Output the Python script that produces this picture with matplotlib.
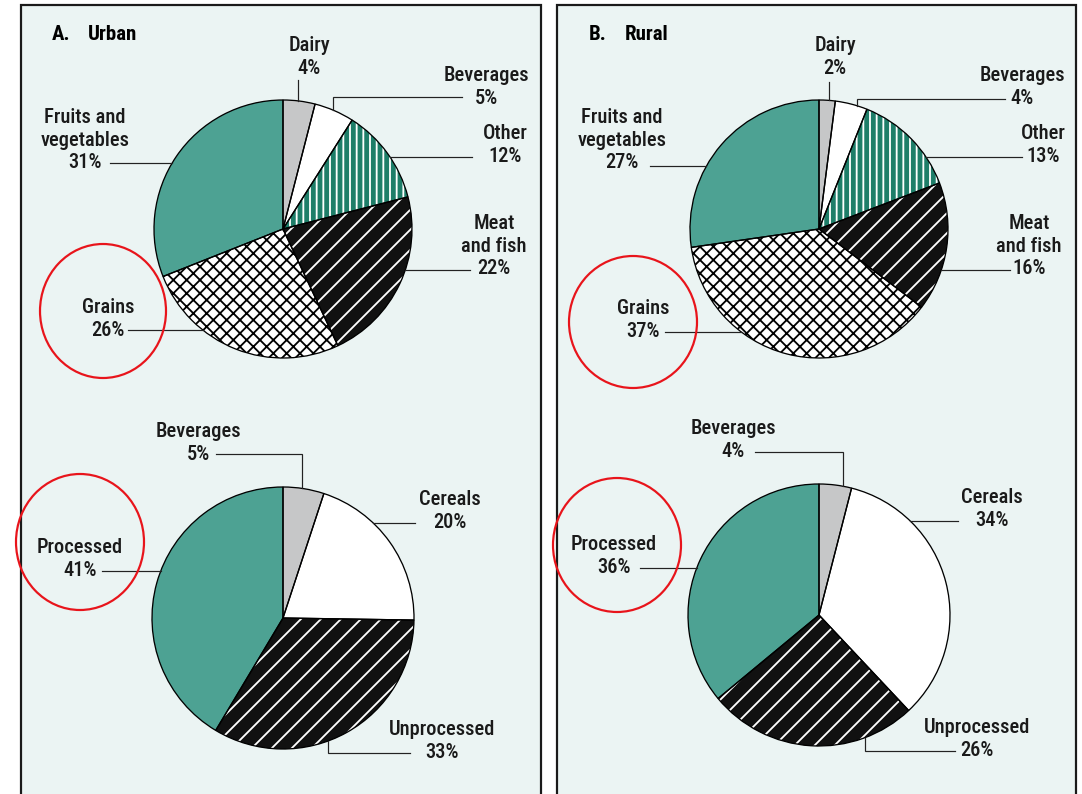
import numpy as np
import matplotlib
matplotlib.use("Agg")
from matplotlib import pyplot as plt
from matplotlib.patches import Rectangle, Ellipse

# figure is laid out in pixel units (y pointing down), dpi 120 so hatch spacing looks right
W, H = 1082, 794
DPI = 120
plt.rcParams['font.family'] = ['Roboto Condensed', 'DejaVu Sans']
plt.rcParams['hatch.linewidth'] = 1.1

# data
top_labels = ['Dairy', 'Beverages', 'Other', 'Meat\nand fish', 'Grains', 'Fruits and\nvegetables']
urban_top = [4, 5, 12, 22, 26, 31]
rural_top = [2, 4, 13, 16, 37, 27]

bottom_labels = ['Beverages', 'Cereals', 'Unprocessed', 'Processed']
urban_bottom = [5, 20, 33, 41]
rural_bottom = [4, 34, 26, 36]

# styles (face, hatch, hatch colour)
teal = '#4DA293'
top_styles = [('#C6C7C8', None, 'none'), ('white', None, 'none'), ('#1E7E69', '|||', 'white'),
              ('#111111', '//', 'white'), ('white', 'xxx', 'black'), (teal, None, 'none')]
bottom_styles = [('#C6C7C8', None, 'none'), ('white', None, 'none'),
                 ('#111111', '//', 'white'), (teal, None, 'none')]

fig = plt.figure(figsize=(W / DPI, H / DPI), dpi=DPI)
ax = fig.add_axes([0, 0, 1, 1])
px = 72 / DPI  # one pixel in points

# background panels
for x0, x1 in [(21, 541), (557, 1076)]:
    ax.add_patch(Rectangle((x0, 5), x1 - x0, 800, facecolor='#EBF4F3', edgecolor='#1a1a1a', lw=2.2 * px, zorder=0))


def draw_pie(values, styles, cx, cy, r):
    wedges, _ = ax.pie(values, startangle=-90, counterclock=True, center=(cx, cy), radius=r,
                       wedgeprops=dict(linewidth=0))
    for w, (fc, hatch, hc) in zip(wedges, styles):
        w.set_facecolor(fc)
        w.set_edgecolor(hc)
        w.set_linewidth(0)
        if hatch:
            w.set_hatch(hatch)
    # outlines on top
    ax.pie(values, startangle=-90, counterclock=True, center=(cx, cy), radius=r,
           wedgeprops=dict(fill=False, edgecolor='black', linewidth=1.3 * px))


def edge_x(cx, cy, r, y, side):
    return cx + side * np.sqrt(r ** 2 - (y - cy) ** 2)


def edge_y(cx, cy, r, x, side):
    return cy + side * np.sqrt(r ** 2 - (x - cx) ** 2)


def leaders(cx, cy, r, specs):
    for kind, a, b, c in specs:
        if kind == 'h':      # horizontal from label x=a at y=b to pie side c
            xs, ys = [a, edge_x(cx, cy, r, b, c)], [b, b]
        elif kind == 'v':    # vertical at x=a from y=b down to pie top
            xs, ys = [a, a], [b, edge_y(cx, cy, r, a, -1)]
        elif kind == 'top':  # from label x=c at y=b across to x=a then down to pie
            xs, ys = [c, a, a], [b, b, edge_y(cx, cy, r, a, -1)]
        else:                # 'bot': from pie bottom at x=a down to y=b then across to x=c
            xs, ys = [a, a, c], [edge_y(cx, cy, r, a, 1), b, b]
        ax.plot(xs, ys, color='#222222', lw=1.2 * px, solid_joinstyle='miter')


def labels(names, values, pos):
    for name, v, (x, y) in zip(names, values, pos):
        ax.text(x, y, f'{name}\n{v}%', ha='center', va='center', fontsize=12.3,
                fontweight='medium', linespacing=1.22, color='#1a1a1a')


# A. Urban
draw_pie(urban_top, top_styles, 283, 229, 129)
labels(top_labels, urban_top, [(309, 57), (486, 87), (505, 145), (494, 246), (108, 319), (85, 140)])
leaders(283, 229, 129, [('v', 298, 80, 0), ('top', 333, 97, 462), ('h', 472, 157, 1),
                        ('h', 470, 270, 1), ('h', 128, 330, -1), ('h', 110, 163, -1)])
draw_pie(urban_bottom, bottom_styles, 283, 618, 131)
labels(bottom_labels, urban_bottom, [(198, 443), (450, 511), (442, 741), (80, 559)])
leaders(283, 618, 131, [('top', 302, 454, 216), ('h', 415, 523, 1), ('bot', 328, 753, 410),
                        ('h', 102, 571, -1)])

# B. Rural
draw_pie(rural_top, top_styles, 819, 229, 129)
labels(top_labels, rural_top, [(835, 57), (1022, 87), (1043, 145), (1029, 246), (643, 320), (622, 140)])
leaders(819, 229, 129, [('v', 829, 82, 0), ('top', 857, 99, 1005), ('h', 1022, 157, 1),
                        ('h', 1010, 270, 1), ('h', 665, 332, -1), ('h', 650, 166, -1)])
draw_pie(rural_bottom, bottom_styles, 819, 615, 131)
labels(bottom_labels, rural_bottom, [(733, 440), (992, 509), (977, 739), (614, 556)])
leaders(819, 615, 131, [('top', 843, 452, 755), ('h', 958, 521, 1), ('bot', 865, 751, 955),
                        ('h', 640, 568, -1)])

# panel titles
for x, letter, word in [(52, 'A.', 'Urban'), (589, 'B.', 'Rural')]:
    ax.text(x, 35, letter, ha='left', va='center', fontsize=12.5, fontweight='bold')
    ax.text(x + 36, 35, word, ha='left', va='center', fontsize=12.5, fontweight='bold')

# red highlight circles
for cx, cy, w, h in [(103, 311, 126, 134), (80, 542, 128, 136), (633, 322, 128, 132), (617, 545, 128, 134)]:
    ax.add_patch(Ellipse((cx, cy), w, h, fill=False, edgecolor='#E8141B', lw=2.2 * px, zorder=5))

ax.set_xlim(0, W)
ax.set_ylim(H, 0)
ax.set_aspect('auto')
ax.axis('off')

fig.savefig('out.png', dpi=DPI, facecolor='white')
